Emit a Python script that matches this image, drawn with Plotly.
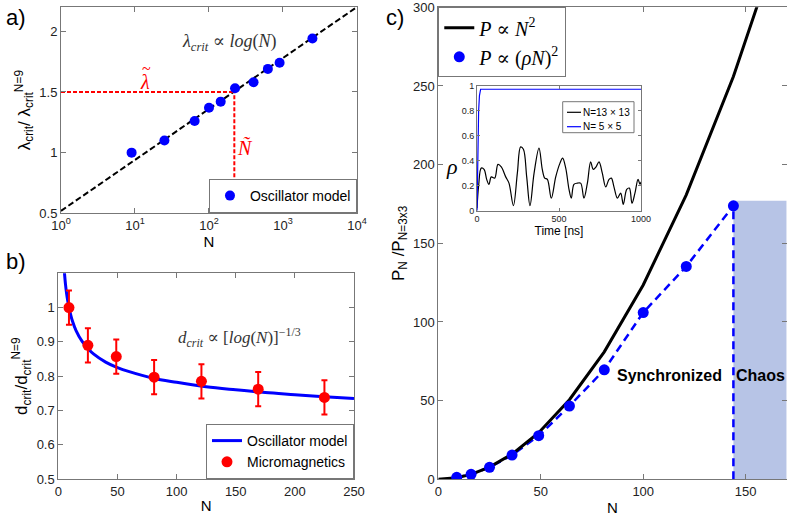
import plotly.graph_objects as go

# ---------------- Panel a ----------------
a_N = [9, 25, 64, 100, 144, 225, 400, 625, 900, 2500]
a_lambda = [1.00, 1.10, 1.26, 1.37, 1.42, 1.53, 1.58, 1.69, 1.74, 1.94]
a_fit_N = [1, 10000]
a_fit_val = [0.52, 2.2]
lambda_tilde = 1.5
N_tilde = 220

# ---------------- Panel b ----------------
b_N = [9, 25, 49, 81, 121, 169, 225]
b_d = [1.00, 0.89, 0.857, 0.797, 0.785, 0.762, 0.738]
b_err = [0.05, 0.05, 0.05, 0.05, 0.05, 0.05, 0.05]
b_model_N = [5, 6, 7, 8, 9, 10, 12, 15, 20, 25, 30, 40, 50, 60, 80, 100, 125, 150, 175, 200, 225, 250]
b_model_d = [1.109, 1.070, 1.041, 1.019, 1.000, 0.985, 0.960, 0.933, 0.902, 0.881, 0.864, 0.841,
             0.825, 0.813, 0.794, 0.782, 0.769, 0.760, 0.752, 0.746, 0.740, 0.735]

# ---------------- Panel c ----------------
c_N_curve = [0, 9, 16, 25, 36, 49, 64, 81, 100, 121, 144, 169]
c_P_curve = [0, 1.0, 3.16, 7.72, 16.0, 29.6, 50.6, 81.0, 123.5, 180.8, 256.0, 352.6]
c_N_pts = [9, 16, 25, 36, 49, 64, 81, 100, 121, 144]
c_P_pts = [1.3, 3.2, 7.6, 15.4, 27.7, 46.6, 69.6, 106.0, 135.3, 173.8]
chaos_x = [144, 170]
chaos_top = 177

# ---------------- Inset ----------------
t_13 = [0, 10, 26, 43, 59, 73, 87, 108, 128, 148, 175, 195, 222, 246, 266, 283, 303, 323, 348,
        378, 398, 413, 429, 453, 480, 506, 522, 541, 561, 575, 591, 612, 632, 652, 673, 693, 709,
        726, 744, 764, 785, 805, 819, 835, 856, 876, 892, 913, 929, 945, 963, 982, 994, 1000]
rho_13 = [0.02, 0.20, 0.34, 0.33, 0.25, 0.21, 0.27, 0.26, 0.37, 0.35, 0.27, 0.22, 0.04, 0.30, 0.51,
          0.49, 0.27, 0.04, 0.30, 0.50, 0.33, 0.26, 0.25, 0.10, 0.27, 0.38, 0.42, 0.34, 0.17, 0.10,
          0.21, 0.22, 0.22, 0.10, 0.22, 0.39, 0.33, 0.35, 0.39, 0.30, 0.19, 0.25, 0.26, 0.19, 0.10,
          0.14, 0.05, 0.17, 0.18, 0.06, 0.14, 0.25, 0.21, 0.23]
t_5 = [0, 5, 10, 15, 22, 1000]
rho_5 = [0.0, 0.50, 0.80, 0.92, 0.97, 0.97]
inset_names = ["N=13 × 13", "N= 5 × 5"]

BLUE = "#0000ff"
RED = "#ff0000"
AXC = "#777777"
SERIF = "Liberation Serif, DejaVu Serif, serif"
SANS = "Liberation Sans, Arial, sans-serif"
W, H = 787, 517


def px(x):
    return x / W


def py(y):
    return 1 - y / H


fig = go.Figure()

# panel a
fig.add_trace(go.Scatter(x=a_fit_N, y=a_fit_val, mode="lines", line=dict(color="black", width=2, dash="6px,3px"),
                         showlegend=False, xaxis="x", yaxis="y"))
fig.add_trace(go.Scatter(x=[1, N_tilde], y=[lambda_tilde, lambda_tilde], mode="lines",
                         line=dict(color=RED, width=2, dash="4px,2px"), showlegend=False, xaxis="x", yaxis="y"))
fig.add_trace(go.Scatter(x=[N_tilde, N_tilde], y=[0.5, lambda_tilde], mode="lines",
                         line=dict(color=RED, width=2, dash="4px,2px"), showlegend=False, xaxis="x", yaxis="y"))
fig.add_trace(go.Scatter(x=a_N, y=a_lambda, mode="markers", marker=dict(color=BLUE, size=10),
                         name="Oscillator model", legend="legend", xaxis="x", yaxis="y"))

# panel b
fig.add_trace(go.Scatter(x=b_model_N, y=b_model_d, mode="lines", line=dict(color=BLUE, width=3, shape="spline"),
                         name="Oscillator model", legend="legend2", xaxis="x2", yaxis="y2"))
fig.add_trace(go.Scatter(x=b_N, y=b_d, mode="markers", marker=dict(color=RED, size=11),
                         error_y=dict(type="data", array=b_err, color=RED, thickness=2, width=3),
                         name="Micromagnetics", legend="legend2", xaxis="x2", yaxis="y2"))

# panel c
fig.add_trace(go.Scatter(x=[chaos_x[0], chaos_x[1], chaos_x[1], chaos_x[0]], y=[0, 0, chaos_top, chaos_top],
                         mode="lines", fill="toself", fillcolor="rgb(183,196,230)", line=dict(width=0),
                         showlegend=False, xaxis="x3", yaxis="y3"))
fig.add_trace(go.Scatter(x=c_N_pts, y=c_P_pts, mode="lines", line=dict(color=BLUE, width=2.5, dash="8px,5px"),
                         showlegend=False, xaxis="x3", yaxis="y3"))
fig.add_trace(go.Scatter(x=[c_N_pts[-1], c_N_pts[-1]], y=[0, c_P_pts[-1]], mode="lines",
                         line=dict(color=BLUE, width=2.5, dash="8px,5px"), showlegend=False, xaxis="x3", yaxis="y3"))
fig.add_trace(go.Scatter(x=c_N_curve, y=c_P_curve, mode="lines", line=dict(color="black", width=3),
                         name="<i>P</i> ∝ <i>N</i><sup>2</sup>", legend="legend3", xaxis="x3", yaxis="y3"))
fig.add_trace(go.Scatter(x=c_N_pts, y=c_P_pts, mode="markers", marker=dict(color=BLUE, size=11),
                         name="<i>P</i> ∝ (<i>ρN</i>)<sup>2</sup>", legend="legend3", xaxis="x3", yaxis="y3"))

# inset
fig.add_trace(go.Scatter(x=t_13, y=rho_13, mode="lines", line=dict(color="black", width=1.2, shape="spline"),
                         name=inset_names[0], showlegend=False, xaxis="x4", yaxis="y4"))
fig.add_trace(go.Scatter(x=t_5, y=rho_5, mode="lines", line=dict(color=BLUE, width=1.2),
                         name=inset_names[1], showlegend=False, xaxis="x4", yaxis="y4"))

ax_common = dict(showline=True, linecolor=AXC, linewidth=1, mirror="ticks", ticks="inside",
                 tickcolor=AXC, ticklen=5, showgrid=False, zeroline=False, automargin=False,
                 ticklabeloverflow="allow", tickfont=dict(size=13, color="#222"))

fig.update_layout(
    width=W, height=H, margin=dict(l=0, r=0, t=0, b=0),
    paper_bgcolor="white", plot_bgcolor="white",
    font=dict(family=SANS, size=13, color="black"),
    xaxis=dict(ax_common, type="log", range=[0, 4], domain=[0.0775, 0.4536], anchor="y",
               tickvals=[1, 10, 100, 1000, 10000],
               ticktext=["10<sup>0</sup>", "10<sup>1</sup>", "10<sup>2</sup>", "10<sup>3</sup>", "10<sup>4</sup>"],
               title=dict(text="N", font=dict(size=15), standoff=2)),
    yaxis=dict(ax_common, range=[0.5, 2.2], domain=[0.5874, 0.9865], anchor="x",
               tickvals=[0.5, 1, 1.5, 2], ticktext=["0.5", "1", "1.5", "2"],
               title=dict(text="λ<sub>crit</sub>/ λ<sub>crit</sub><sup>N=9</sup>", font=dict(size=17), standoff=4)),
    xaxis2=dict(ax_common, range=[0, 250], domain=[0.0741, 0.4498], anchor="y2",
                tickvals=[0, 50, 100, 150, 200, 250],
                title=dict(text="N", font=dict(size=15), standoff=2)),
    yaxis2=dict(ax_common, range=[0.5, 1.1], domain=[0.0735, 0.4714], anchor="x2",
                tickvals=[0.5, 0.6, 0.7, 0.8, 0.9, 1.0], ticktext=["0.5", "0.6", "0.7", "0.8", "0.9", "1"],
                title=dict(text="d<sub>crit</sub>/d<sub>crit</sub><sup>N=9</sup>", font=dict(size=17), standoff=4)),
    xaxis3=dict(ax_common, range=[0, 170], domain=[0.5569, 0.9996], anchor="y3",
                tickvals=[0, 50, 100, 150],
                title=dict(text="N", font=dict(size=15), standoff=4)),
    yaxis3=dict(ax_common, range=[0, 300], domain=[0.0729, 0.9859], anchor="x3",
                tickvals=[0, 50, 100, 150, 200, 250, 300],
                title=dict(text="P<sub>N</sub> /P<sub>N=3x3</sub>", font=dict(size=17), standoff=4)),
    xaxis4=dict(ax_common, range=[0, 1000], domain=[0.6061, 0.8145], anchor="y4", ticklen=3,
                tickvals=[0, 500, 1000], tickfont=dict(size=9, color="#222"),
                title=dict(text="Time [ns]", font=dict(size=12), standoff=1)),
    yaxis4=dict(ax_common, range=[0, 1], domain=[0.5925, 0.8346], anchor="x4", ticklen=3,
                tickvals=[0, 0.2, 0.4, 0.6, 0.8, 1], ticktext=["0", "0.2", "0.4", "0.6", "0.8", "1"],
                tickfont=dict(size=9, color="#222")),
    legend=dict(x=0.4536, y=0.588, xanchor="right", yanchor="bottom", bordercolor=AXC, borderwidth=1,
                bgcolor="white", font=dict(size=14), itemwidth=30, tracegroupgap=0),
    legend2=dict(x=0.4498, y=0.0735, xanchor="right", yanchor="bottom", bordercolor=AXC, borderwidth=1,
                 bgcolor="white", font=dict(size=14), itemwidth=30, tracegroupgap=0),
    legend3=dict(x=0.5569, y=0.9859, xanchor="left", yanchor="top", bordercolor=AXC, borderwidth=1,
                 bgcolor="white", font=dict(size=20, family=SERIF), itemwidth=30, tracegroupgap=0),
    showlegend=True,
)

# compact legend for the inset (box, line samples, labels)
shapes = [
    dict(type="rect", xref="paper", yref="paper", x0=px(562.7), x1=px(634), y0=py(132.7), y1=py(101.7),
         line=dict(color=AXC, width=1), fillcolor="white", layer="above"),
    dict(type="line", xref="paper", yref="paper", x0=px(567), x1=px(581), y0=py(112.3), y1=py(112.3),
         line=dict(color="black", width=1.2), layer="above"),
    dict(type="line", xref="paper", yref="paper", x0=px(567), x1=px(581), y0=py(126.7), y1=py(126.7),
         line=dict(color=BLUE, width=1.2), layer="above"),
]
fig.update_layout(shapes=shapes)

annotations = [
    dict(text="a)", x=0.005, y=0.995, xref="paper", yref="paper", xanchor="left", yanchor="top",
         showarrow=False, font=dict(size=22)),
    dict(text="b)", x=0.005, y=0.522, xref="paper", yref="paper", xanchor="left", yanchor="top",
         showarrow=False, font=dict(size=22)),
    dict(text="c)", x=0.488, y=0.995, xref="paper", yref="paper", xanchor="left", yanchor="top",
         showarrow=False, font=dict(size=22)),
    dict(text="<i>λ<sub>crit</sub></i> ∝ <i>log</i>(<i>N</i>)", x=2.28, y=1.905, xref="x", yref="y",
         showarrow=False, font=dict(size=18, family=SERIF, color="#333")),
    dict(text="<i>λ</i>", x=1.135, y=1.58, xref="x", yref="y", showarrow=False,
         font=dict(size=20, family=SERIF, color=RED)),
    dict(text="~", x=1.16, y=1.69, xref="x", yref="y", showarrow=False,
         font=dict(size=16, family=SERIF, color=RED)),
    dict(text="<i>Ñ</i>", x=2.49, y=1.04, xref="x", yref="y", showarrow=False,
         font=dict(size=20, family=SERIF, color=RED)),
    dict(text="<i>d<sub>crit</sub></i> ∝ [<i>log</i>(<i>N</i>)]<sup>−1/3</sup>", x=153, y=0.912,
         xref="x2", yref="y2", showarrow=False, font=dict(size=17, family=SERIF, color="#333")),
    dict(text="<b>Synchronized</b>", x=112.7, y=66, xref="x3", yref="y3", showarrow=False,
         font=dict(size=16)),
    dict(text="<b>Chaos</b>", x=157.3, y=66, xref="x3", yref="y3", showarrow=False, font=dict(size=16)),
    dict(text="<i>ρ</i>", x=0.5743, y=0.706, xref="paper", yref="paper", showarrow=False,
         font=dict(size=22, family=SERIF)),
    dict(text=inset_names[0], x=px(581), y=py(112.3), xref="paper", yref="paper", xanchor="left",
         yanchor="middle", showarrow=False, font=dict(size=10)),
    dict(text=inset_names[1], x=px(581), y=py(126.7), xref="paper", yref="paper", xanchor="left",
         yanchor="middle", showarrow=False, font=dict(size=10)),
]
fig.update_layout(annotations=annotations)

fig.write_html("out.html", config={"displayModeBar": False},
               post_script="document.body.style.margin='0px';document.body.style.overflow='hidden';")
